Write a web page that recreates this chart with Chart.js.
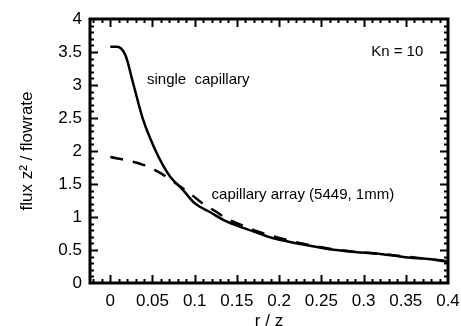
<!DOCTYPE html>
<html>
<head>
<meta charset="utf-8">
<script src="https://cdn.jsdelivr.net/npm/chart.js@4"></script>
<style>
  html, body { margin: 0; padding: 0; background: #fff; }
  #flux { display: block; }
</style>
</head>
<body>
<canvas id="flux" width="461" height="326"></canvas>
<script>
// single capillary (solid)
let singleX = [0, 0.008, 0.018, 0.027, 0.039, 0.051, 0.063, 0.071, 0.086, 0.1, 0.12, 0.135, 0.15, 0.17, 0.19, 0.21, 0.23, 0.26, 0.29, 0.32, 0.35, 0.38, 0.4];
let singleY = [3.58, 3.58, 3.45, 3.03, 2.47, 2.08, 1.77, 1.61, 1.41, 1.21, 1.06, 0.95, 0.87, 0.78, 0.69, 0.63, 0.58, 0.51, 0.47, 0.44, 0.39, 0.36, 0.32];
// capillary array (dashed)
let arrayX = [0, 0.026, 0.039, 0.053, 0.069, 0.08, 0.096, 0.11, 0.124, 0.14, 0.155, 0.17, 0.19, 0.21, 0.23, 0.26, 0.29, 0.32, 0.35, 0.38, 0.4];
let arrayY = [1.91, 1.84, 1.79, 1.71, 1.59, 1.49, 1.34, 1.2, 1.09, 0.96, 0.88, 0.8, 0.72, 0.65, 0.59, 0.52, 0.47, 0.44, 0.4, 0.36, 0.33];

let xTicks = [0, 0.05, 0.1, 0.15, 0.2, 0.25, 0.3, 0.35, 0.4];
let xTickLabels = ["0", "0.05", "0.1", "0.15", "0.2", "0.25", "0.3", "0.35", "0.4"];
let yTicks = [0, 0.5, 1, 1.5, 2, 2.5, 3, 3.5, 4];
let yTickLabels = ["0", "0.5", "1", "1.5", "2", "2.5", "3", "3.5", "4"];

// text notes, placed in data units
let notes = [
  { text: "single  capillary", x: 0.0435, y: 3.08 },
  { text: "Kn = 10", x: 0.309, y: 3.5 },
  { text: "capillary array (5449, 1mm)", x: 0.12, y: 1.33 },
];

const toPoints = (xs, ys) => xs.map((v, i) => ({ x: v, y: ys[i] }));
const font = "'Liberation Sans', Arial, Helvetica, sans-serif";

// frame + inward ticks on all four sides, and the notes
const frame = {
  id: "frame",
  afterDraw(chart) {
    const ctx = chart.ctx;
    const { left, right, top, bottom } = chart.chartArea;
    const x = chart.scales.x, y = chart.scales.y;
    ctx.save();
    ctx.strokeStyle = "#000";
    ctx.lineWidth = 2;
    ctx.beginPath();
    for (let i = -2; i <= 40; i++) {
      const px = Math.round(x.getPixelForValue(i / 100)) + 0.5;
      if (px < left + 1 || px > right - 1) continue;
      const len = i % 5 === 0 ? 8 : 4;
      ctx.moveTo(px, bottom); ctx.lineTo(px, bottom - len);
      ctx.moveTo(px, top); ctx.lineTo(px, top + len);
    }
    for (let i = 1; i < 40; i++) {
      const py = Math.round(y.getPixelForValue(i / 10)) + 0.5;
      const len = i % 5 === 0 ? 8 : 4;
      ctx.moveTo(left, py); ctx.lineTo(left + len, py);
      ctx.moveTo(right, py); ctx.lineTo(right - len, py);
    }
    ctx.stroke();
    ctx.lineWidth = 3;
    ctx.strokeRect(left, top, right - left, bottom - top);

    ctx.fillStyle = "#000";
    ctx.font = "15px " + font;
    ctx.textBaseline = "middle";
    ctx.textAlign = "left";
    notes.forEach(n => {
      ctx.fillText(n.text, x.getPixelForValue(n.x), y.getPixelForValue(n.y));
    });
    ctx.restore();
  },
};

var chart = new Chart(document.getElementById("flux").getContext("2d"), {
  type: "scatter",
  data: {
    datasets: [
      {
        label: "single capillary",
        data: toPoints(singleX, singleY),
        showLine: true,
        borderColor: "#000",
        borderWidth: 2.5,
        pointRadius: 0,
        cubicInterpolationMode: "monotone",
      },
      {
        label: "capillary array (5449, 1mm)",
        data: toPoints(arrayX, arrayY),
        showLine: true,
        borderColor: "#000",
        borderWidth: 2.5,
        borderDash: [13, 10],
        pointRadius: 0,
        cubicInterpolationMode: "monotone",
      },
    ],
  },
  options: {
    responsive: false,
    animation: false,
    devicePixelRatio: 1,
    layout: { padding: { top: 19, right: 13, left: 0, bottom: 0 } },
    plugins: { legend: { display: false }, tooltip: { enabled: false } },
    scales: {
      x: {
        type: "linear",
        min: -0.024,
        max: 0.4,
        afterBuildTicks: (s) => { s.ticks = xTicks.map(v => ({ value: v })); },
        afterFit: (s) => { s.height = 43; s.paddingLeft = 0; s.paddingRight = 0; },
        grid: { display: false, drawTicks: false },
        border: { display: false },
        ticks: {
          padding: 8,
          color: "#000",
          font: { family: font, size: 17 },
          callback: (v, i) => xTickLabels[i],
          maxRotation: 0,
        },
        title: {
          display: true,
          text: "r / z",
          color: "#000",
          font: { family: font, size: 17 },
          padding: { top: 0, bottom: -6 },
        },
      },
      y: {
        type: "linear",
        min: 0,
        max: 4,
        afterBuildTicks: (s) => { s.ticks = yTicks.map(v => ({ value: v })); },
        afterFit: (s) => { s.width = 90; s.paddingTop = 0; s.paddingBottom = 0; },
        grid: { display: false, drawTicks: false },
        border: { display: false },
        ticks: {
          padding: 8,
          color: "#000",
          font: { family: font, size: 17 },
          callback: (v, i) => yTickLabels[i],
        },
        title: {
          display: true,
          text: "flux z\u00b2 / flowrate",
          color: "#000",
          font: { family: font, size: 17 },
          padding: { top: 17, bottom: 0 },
        },
      },
    },
  },
  plugins: [frame],
});
</script>
</body>
</html>
